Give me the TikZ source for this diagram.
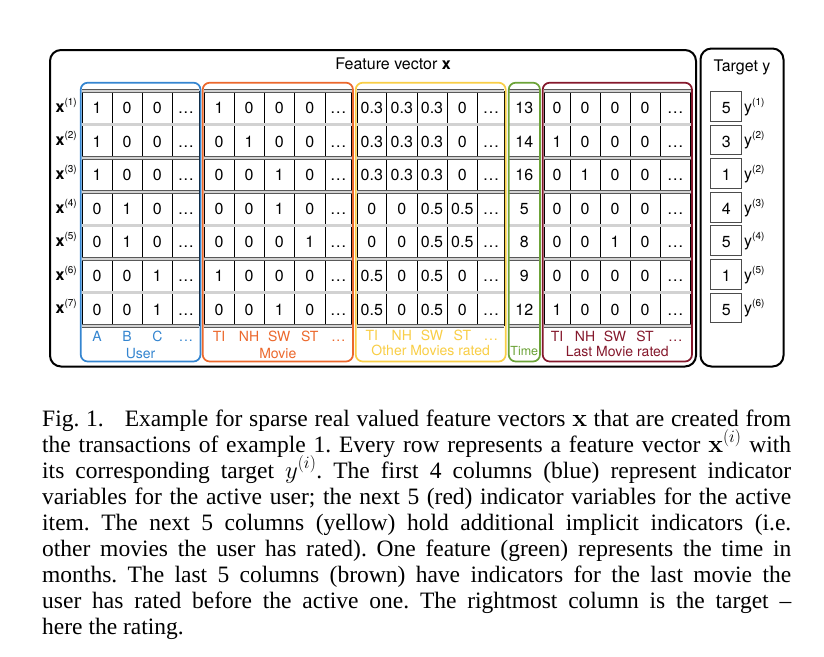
\documentclass[tikz,border=0pt]{standalone}
\usepackage[no-math]{fontspec}
\setmainfont{TeX Gyre Heros}
\newfontfamily\capfont{Liberation Serif}
\definecolor{cblue}{RGB}{52,133,208}
\definecolor{corange}{RGB}{236,104,44}
\definecolor{cyellow}{RGB}{249,206,70}
\definecolor{cgreen}{RGB}{108,163,56}
\definecolor{cbrown}{RGB}{133,24,44}
\newcommand{\dts}{.\kern1pt.\kern1pt.}
\newcommand{\sups}[1]{\raisebox{7pt}{\fontsize{10}{10}\selectfont(#1)}}
\newcommand{\fillgroup}[3]{%
  \foreach \r/\vals in {#3} {
    \pgfmathsetmacro\rc{107.7+33.6*(\r-1)}
    \foreach \v [count=\j] in \vals {
      \pgfmathsetmacro\cx{{#2}[\j-1]}
      \node[cellt] (#1\r-\j) at (\cx,\rc) {\v};
    }
  }%
}
\newcommand{\labgroup}[5]{% prefix, centers, labels, colour, baseline
  \foreach \t [count=\j] in {#3} {
    \pgfmathsetmacro\cx{{#2}[\j-1]}
    \node[lab, text=#4] (#1\j) at (\cx,#5) {\t};
  }%
}
\frenchspacing
\begin{document}
\begin{tikzpicture}[x=1pt,y=-1pt,
  cellt/.style={font=\fontsize{16}{18}\selectfont, inner sep=0pt, text height=11.5pt, text depth=0pt, anchor=center},
  rowsep/.style={draw=gray!70!black, line width=0.6pt, double=gray!35, double distance=2.4pt},
  vline/.style={draw=black, line width=0.9pt},
  grp/.style={rounded corners=7pt, line width=1.7pt},
  outerbox/.style={draw=black, rounded corners=11pt, line width=2pt},
  tbox/.style={draw=gray!60!black, line width=0.9pt},
  lab/.style={font=\fontsize{14}{16}\selectfont, inner sep=0pt, anchor=base},
  ttl/.style={font=\fontsize{16}{18}\selectfont, inner sep=0pt, anchor=base},
  rlab/.style={font=\fontsize{16}{18}\selectfont, inner sep=0pt, anchor=base west},
  capline/.style={font=\capfont\fontsize{23.5}{26}\selectfont, inner sep=0pt, anchor=base west, text height=17pt, text depth=5pt}
]
\useasboundingbox (0,0) rectangle (824,656);
\fill[white] (0,0) rectangle (824,656);

% outer boxes
\draw[outerbox] (50,50) rectangle (696,366.5);
\draw[outerbox] (700.5,48.5) rectangle (783.5,366.5);
\node[ttl] (ftitle) at (393,69.3) {Feature vector \textbf{x}};
\node[ttl] (ttitle) at (742,71.7) {Target y};

% vertical cell lines
\foreach \xx in {82,112,142,172.7,199.2, 204,234,264,294.5,325,351.7, 357,386.7,417,447,477.7,504.4, 544,570,600,630,660,690.7}
  \draw[vline] (\xx,90.9) -- (\xx,326.1);

% row separators
\foreach \k in {0,1,2,3,4,5,6,7} {
  \pgfmathsetmacro\yy{90.9+33.6*\k}
  \foreach \xa/\xb in {82/199.2, 204/351.7, 357/504.4, 508.7/540, 544/690.7}
    \draw[rowsep] (\xa,\yy) -- (\xb,\yy);
}

% group boxes
\draw[grp, cblue]   (80.7,82.7)  rectangle (200.5,361.5);
\draw[grp, corange] (202.7,82.7) rectangle (353,361.5);
\draw[grp, cyellow] (355.7,82.7) rectangle (505.7,361.5);
\draw[grp, cgreen]  (508.7,82.7) rectangle (540,361.5);
\draw[grp, cbrown]  (542.7,82.7) rectangle (692,361.5);

% cell values
\fillgroup{u}{97,127,157.35,185.95}{1/{1,0,0,\dts},2/{1,0,0,\dts},3/{1,0,0,\dts},4/{0,1,0,\dts},5/{0,1,0,\dts},6/{0,0,1,\dts},7/{0,0,1,\dts}}
\fillgroup{m}{219,249,279.25,309.75,338.35}{1/{1,0,0,0,\dts},2/{0,1,0,0,\dts},3/{0,0,1,0,\dts},4/{0,0,1,0,\dts},5/{0,0,0,1,\dts},6/{1,0,0,0,\dts},7/{0,0,1,0,\dts}}
\fillgroup{o}{371.85,401.85,432,462.35,491.05}{1/{0.3,0.3,0.3,0,\dts},2/{0.3,0.3,0.3,0,\dts},3/{0.3,0.3,0.3,0,\dts},4/{0,0,0.5,0.5,\dts},5/{0,0,0.5,0.5,\dts},6/{0.5,0,0.5,0,\dts},7/{0.5,0,0.5,0,\dts}}
\fillgroup{l}{557,585,615,645,675.35}{1/{0,0,0,0,\dts},2/{1,0,0,0,\dts},3/{0,1,0,0,\dts},4/{0,0,0,0,\dts},5/{0,0,1,0,\dts},6/{0,0,0,0,\dts},7/{1,0,0,0,\dts}}
\foreach \r/\v in {1/13,2/14,3/16,4/5,5/8,6/9,7/12} {
  \pgfmathsetmacro\rc{107.7+33.6*(\r-1)}
  \node[cellt] (t\r) at (524.3,\rc) {\v};
}

% row labels
\foreach \r in {1,2,3,4,5,6,7} {
  \pgfmathsetmacro\rc{107.7+33.6*(\r-1)}
  \node[rlab] (x\r) at (55.5,\rc+4.5) {\textbf{x}\sups{\r}};
}

% target column
\foreach \r/\v/\s in {1/5/1,2/3/2,3/1/2,4/4/3,5/5/4,6/1/5,7/5/6} {
  \pgfmathsetmacro\yt{90.9+33.6*(\r-1)}
  \pgfmathsetmacro\rc{107.7+33.6*(\r-1)}
  \draw[tbox] (710.7,\yt+0.5) rectangle (741.7,\yt+30.3);
  \node[cellt] (tv\r) at (726.2,\rc) {\v};
  \node[rlab] (ty\r) at (744,\rc+4.5) {y\sups{\s}};
}

% column labels
\labgroup{ul}{97,127,157.35,185.95}{A,B,C,\dts}{cblue}{341.5}
\labgroup{ml}{219,249,279.25,309.75,338.35}{TI,NH,SW,ST,\dts}{corange}{341.5}
\labgroup{ol}{371.85,401.85,432,462.35,491.05}{TI,NH,SW,ST,\dts}{cyellow}{340.5}
\labgroup{ll}{557,585,615,645,675.35}{TI,NH,SW,ST,\dts}{cbrown}{341}
\node[lab, text=cblue]   (gU) at (140.6,358) {User};
\node[lab, text=corange] (gM) at (277.8,358.5) {Movie};
\node[lab, text=cyellow] (gO) at (430.7,355.5) {Other Movies rated};
\node[lab, text=cgreen, font=\fontsize{12.5}{14}\selectfont] (gT) at (524.3,355) {Time};
\node[lab, text=cbrown]  (gL) at (617.3,356) {Last Movie rated};

% caption
\node[capline] (cap1) at (42,426) {\makebox[749pt][s]{Fig.~1.\hspace{0.9em}Example for sparse real valued feature vectors $\mathbf{x}$ that are created from}};
\node[capline] (cap2) at (42,452) {\makebox[749pt][s]{the transactions of example 1. Every row represents a feature vector $\mathbf{x}^{(i)}$ with}};
\node[capline] (cap3) at (42,478) {\makebox[749pt][s]{its corresponding target $y^{(i)}$. The first 4 columns (blue) represent indicator}};
\node[capline] (cap4) at (42,504) {\makebox[749pt][s]{variables for the active user; the next 5 (red) indicator variables for the active}};
\node[capline] (cap5) at (42,530) {\makebox[749pt][s]{item. The next 5 columns (yellow) hold additional implicit indicators (i.e.}};
\node[capline] (cap6) at (42,556) {\makebox[749pt][s]{other movies the user has rated). One feature (green) represents the time in}};
\node[capline] (cap7) at (42,582) {\makebox[749pt][s]{months. The last 5 columns (brown) have indicators for the last movie the}};
\node[capline] (cap8) at (42,608) {\makebox[749pt][s]{user has rated before the active one. The rightmost column is the target –}};
\node[capline] (cap9) at (42,634) {here the rating.};
\end{tikzpicture}
\end{document}
